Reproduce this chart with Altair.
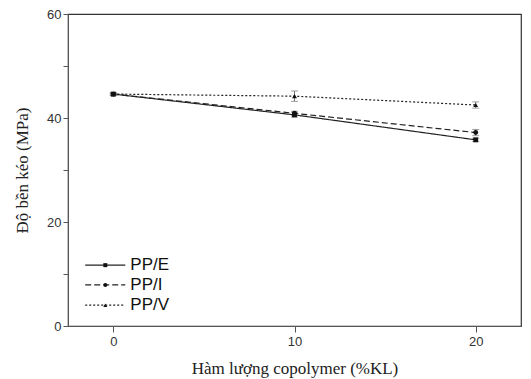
import altair as alt
import pandas as pd

series = ["PP/E", "PP/I", "PP/V"]
x_vals = [0, 10, 20]
pp_e = [44.6, 40.6, 35.8]
pp_i = [44.6, 40.9, 37.2]
pp_v = [44.6, 44.2, 42.5]
err_e = [0.2, 0.4, 0.3]
err_i = [0.2, 0.4, 0.6]
err_v = [0.2, 1.0, 0.6]

shapes = ["square", "circle", "triangle-up"]
dashes = [[1, 0], [6, 3], [2, 2]]

rows = []
for s, ys, es in zip(series, [pp_e, pp_i, pp_v], [err_e, err_i, err_v]):
    for x, y, e in zip(x_vals, ys, es):
        rows.append({"series": s, "x": x, "y": y, "lo": y - e, "hi": y + e})
df = pd.DataFrame(rows)

# legend rows placed in data coordinates
leg_y = [11.7, 7.9, 4.0]
leg = pd.DataFrame({"series": series, "y": leg_y,
                    "x1": [-1.55] * 3, "x2": [0.66] * 3,
                    "xm": [-0.44] * 3, "xt": [0.94] * 3})

xs = alt.Scale(domain=[-2.5, 22.5], nice=False, zero=False)
ys = alt.Scale(domain=[0, 60], nice=False)
dash_scale = alt.Scale(domain=series, range=dashes)
shape_scale = alt.Scale(domain=series, range=shapes)

xax = alt.Axis(values=[0, 10, 20], title="Hàm lượng copolymer (%KL)", grid=False,
               labelFont="Liberation Sans", labelFontSize=13, labelColor="#333",
               titleFont="Liberation Serif", titleFontSize=17, titleFontWeight="normal",
               titleColor="#222", titlePadding=12, tickSize=6, domainColor="#555",
               tickColor="#555", labelPadding=3)
yax = alt.Axis(values=[0, 10, 20, 30, 40, 50, 60], title="Độ bền kéo (MPa)", grid=False,
               labelExpr="datum.value % 20 == 0 ? datum.label : ''",
               labelFont="Liberation Sans", labelFontSize=13, labelColor="#333",
               titleFont="Liberation Serif", titleFontSize=17, titleFontWeight="normal",
               titleColor="#222", titlePadding=15, tickSize=5, domainColor="#555",
               tickColor="#555")

base = alt.Chart(df)
lines = base.mark_line(color="#222", strokeWidth=1.2).encode(
    x=alt.X("x:Q", scale=xs, axis=xax),
    y=alt.Y("y:Q", scale=ys, axis=yax),
    strokeDash=alt.StrokeDash("series:N", scale=dash_scale, legend=None),
    detail="series:N",
)
rules = base.mark_rule(color="#777", strokeWidth=1).encode(x="x:Q", y="lo:Q", y2="hi:Q")
caps_lo = base.mark_tick(color="#777", size=7, thickness=1, orient="horizontal").encode(x="x:Q", y="lo:Q")
caps_hi = base.mark_tick(color="#777", size=7, thickness=1, orient="horizontal").encode(x="x:Q", y="hi:Q")
points = base.mark_point(filled=True, color="#111", size=24, opacity=1).encode(
    x="x:Q", y="y:Q",
    shape=alt.Shape("series:N", scale=shape_scale, legend=None),
)

lb = alt.Chart(leg)
leg_lines = lb.mark_rule(color="#222", strokeWidth=1.2).encode(
    x="x1:Q", x2="x2:Q", y="y:Q",
    strokeDash=alt.StrokeDash("series:N", scale=dash_scale, legend=None),
)
leg_pts = lb.mark_point(filled=True, color="#111", size=16, opacity=1).encode(
    x="xm:Q", y="y:Q",
    shape=alt.Shape("series:N", scale=shape_scale, legend=None),
)
leg_txt = lb.mark_text(align="left", baseline="middle", font="Liberation Sans",
                       fontSize=17, color="#111").encode(x="xt:Q", y="y:Q", text="series:N")

chart = alt.layer(lines, rules, caps_lo, caps_hi, points, leg_lines, leg_pts, leg_txt).properties(
    width=453, height=312,
    autosize=alt.AutoSizeParams(type="none"),
    padding={"left": 68, "top": 14, "right": 10, "bottom": 53},
    background="white",
).configure_view(stroke="#333", strokeWidth=1.2)

chart.save("out.html", embed_options={"renderer": "svg", "actions": False})
